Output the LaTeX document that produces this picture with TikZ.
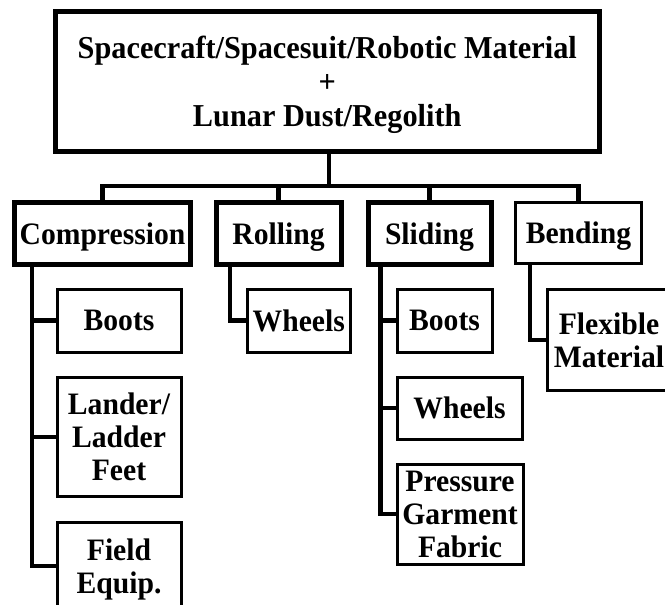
\documentclass[tikz,border=0pt]{standalone}
\usepackage{fontspec}
\setmainfont{Liberation Serif}[FakeStretch=0.95]
\begin{document}
\begin{tikzpicture}[x=1pt,y=-1pt,
  box/.style={draw=black, rectangle, inner sep=0pt, outer sep=0pt, align=center,
    text depth=0pt, font=\fontsize{31.2}{33}\selectfont\bfseries},
  thickbox/.style={box, line width=5pt},
  thinbox/.style={box, line width=3pt},
  conn/.style={draw=black, line width=4.4pt}]
\useasboundingbox (0,0) rectangle (665,605);
% root
\node[thickbox, minimum width=543.5pt, minimum height=139.5pt,
  font=\fontsize{31.9}{34}\selectfont\bfseries] (top) at (327.25,81.25)
  {Spacecraft/Spacesuit/Robotic Material\\+\\Lunar Dust/Regolith};
% level 1
\node[thickbox, minimum width=176pt, minimum height=62pt] (comp) at (102.5,233.5) {Compression};
\node[thickbox, minimum width=125pt, minimum height=62pt] (roll) at (278.5,233.5) {Rolling};
\node[thickbox, minimum width=123pt, minimum height=62pt] (slid) at (429.5,233.5) {Sliding};
\node[thinbox, minimum width=126pt, minimum height=61pt] (bend) at (578.5,232.5) {Bending};
% compression children
\node[thinbox, minimum width=124pt, minimum height=63pt] (cboots) at (119,320.5) {Boots};
\node[thinbox, minimum width=124pt, minimum height=119.5pt] (lander) at (119,436.75) {Lander/\\Ladder\\Feet};
\node[thinbox, minimum width=124pt, minimum height=88pt] (field) at (119,566) {Field\\Equip.};
% rolling child
\node[thinbox, minimum width=103.5pt, minimum height=63pt] (rwheels) at (298.75,320.5) {Wheels};
% sliding children
\node[thinbox, minimum width=95pt, minimum height=63pt] (sboots) at (444.5,320.5) {Boots};
\node[thinbox, minimum width=125pt, minimum height=62pt] (swheels) at (459.5,408) {Wheels};
\node[thinbox, minimum width=126pt, minimum height=100pt] (press) at (460,514) {Pressure\\Garment\\Fabric};
% bending child
\node[thinbox, minimum width=123pt, minimum height=100.5pt] (flex) at (609,339.75) {Flexible\\Material};
% connectors
\coordinate (bus) at (329,186);
\draw[conn] (top.south -| bus) -- (bus);
\draw[conn] (comp.north) -- (comp.north |- bus) -- (bend.north |- bus) -- (bend.north);
\draw[conn] (roll.north) -- (roll.north |- bus);
\draw[conn] (slid.north) -- (slid.north |- bus);
\coordinate (cx) at (32,0);
\draw[conn] (comp.south -| cx) |- (field.west);
\draw[conn] (cx |- cboots.west) -- (cboots.west);
\draw[conn] (cx |- lander.west) -- (lander.west);
\coordinate (rx) at (230,0);
\draw[conn] (roll.south -| rx) |- (rwheels.west);
\coordinate (sx) at (380.5,0);
\draw[conn] (slid.south -| sx) |- (press.west);
\draw[conn] (sx |- sboots.west) -- (sboots.west);
\draw[conn] (sx |- swheels.west) -- (swheels.west);
\coordinate (bx) at (530,0);
\draw[conn] (bend.south -| bx) |- (flex.west);
\end{tikzpicture}
\end{document}
